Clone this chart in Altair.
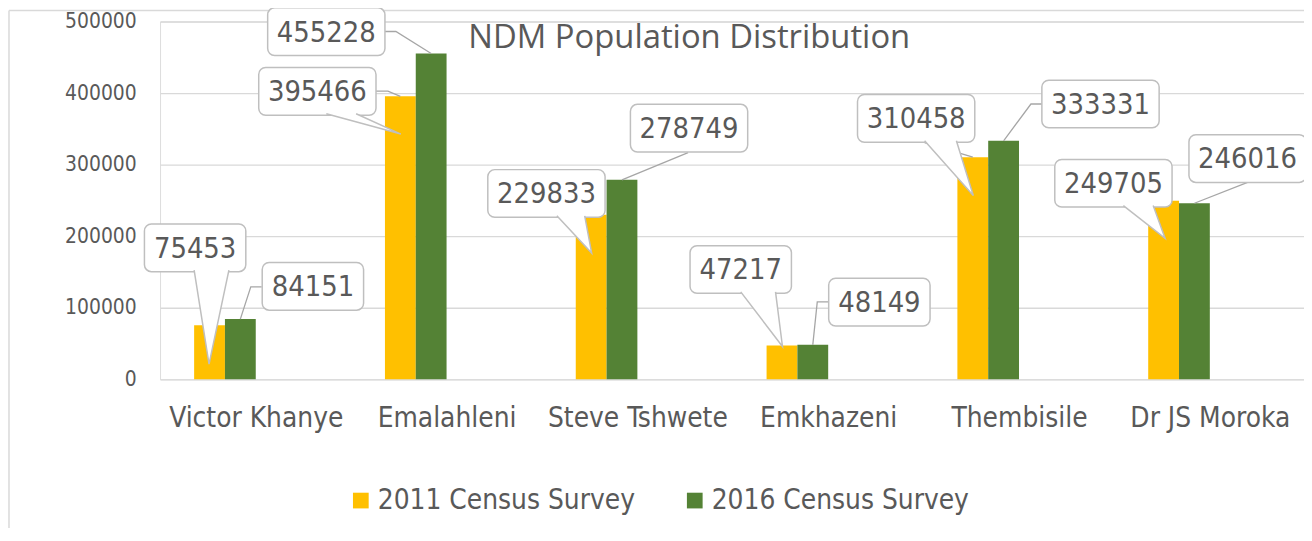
import json
import altair as alt
import pandas as pd

# ---------------- data ----------------
categories = ["Victor Khanye", "Emalahleni", "Steve Tshwete", "Emkhazeni", "Thembisile", "Dr JS Moroka"]
series_names = ["2011 Census Survey", "2016 Census Survey"]
census_2011 = [75453, 395466, 229833, 47217, 310458, 249705]
census_2016 = [84151, 455228, 278749, 48149, 333331, 246016]
y_ticks = [0, 100000, 200000, 300000, 400000, 500000]

# ---------------- layout / style ----------------
W, H = 1151, 360
X_DOMAIN = [-0.34, 5.655]
Y_DOMAIN = [0, 500000]
PX_PER_STEP = W / (X_DOMAIN[1] - X_DOMAIN[0])
PX_PER_UNIT = H / (Y_DOMAIN[1] - Y_DOMAIN[0])
BAR_W = 31 / PX_PER_STEP
COLORS = ["#FFC000", "#548235"]
TXT = "#595959"
GRID = "#D9D9D9"
EDGE = "#BFBFBF"
LEAD = "#A6A6A6"
FONT = "DejaVu Sans Condensed"
BOX_H = 48

# callout placement, pixels relative to the top-centre of each bar
box_off = {
    0: [(-14.5, -78), (-83.5, -5), (-45, -21.5), (-41.5, -76.5), (-57, -39), (-50.5, -17.5)],
    1: [(73, -33), (-105.5, -22), (67.5, -52), (67, -43), (97.5, -37), (53.5, -45)],
}
# wedge: (base x0, base x1 relative to box centre), tip relative to bar top
wedges = {
    (0, 0): ((-1, 34), (-0.5, 39)),
    (0, 1): ((9, 39), (0.5, 38)),
    (0, 2): ((10.5, 38.5), (0.5, 38.5)),
    (0, 3): ((0, 35), (0.5, 1)),
    (0, 4): ((8.5, 40.5), (0.5, 38.5)),
    (0, 5): ((10, 40), (1.5, 38)),
}
leaders = {
    (0, 1): [(-24.5, -5.3), (-12.5, -5.3)],
    (0, 4): [(-48.5, -14.5)],
    (1, 0): [(21.5, -32.5), (10.5, -32.5)],
    (1, 1): [(-46.5, -22.2), (-35.5, -22.2)],
    (1, 2): [(66.5, -27.3)],
    (1, 3): [(15.5, -43.3), (4.5, -43.3)],
    (1, 4): [(39.5, -37), (27.5, -37)],
    (1, 5): [(53.5, -21)],
}


def fx(px):
    return px / PX_PER_STEP


def fy(px):
    return -px / PX_PER_UNIT


bars, boxes, wed_rows, lead_rows = [], [], [], []
for s, vals in enumerate([census_2011, census_2016]):
    for i, v in enumerate(vals):
        x0 = i + (s - 1) * BAR_W
        bars.append({"series": series_names[s], "x0": x0, "x1": x0 + BAR_W, "value": v})
        ax = i + (s - 0.5) * BAR_W
        label = str(v)
        bw = 16 * len(label) + 22
        dx, dy = box_off[s][i]
        cx, cy = ax + fx(dx), v + fy(dy)
        boxes.append({
            "label": label, "cx": cx, "cy": cy,
            "bx0": cx - fx(bw / 2), "bx1": cx + fx(bw / 2),
            "by0": cy + fy(-BOX_H / 2), "by1": cy + fy(BOX_H / 2),
        })
        key = (s, i)
        if key in wedges:
            (b0, b1), (tx, ty) = wedges[key]
            base_y = cy + fy(BOX_H / 2 - 1.5)
            pts = [(cx + fx(b0), base_y), (ax + fx(tx), v + fy(ty)), (cx + fx(b1), base_y)]
            for k, (px_, py_) in enumerate(pts):
                wed_rows.append({"id": f"{s}-{i}", "ord": k, "x": px_, "y": py_})
        if key in leaders:
            pts = [(ax + fx(a), v + fy(b)) for a, b in leaders[key]] + [(ax, v)]
            for k, (px_, py_) in enumerate(pts):
                lead_rows.append({"id": f"{s}-{i}", "ord": k, "x": px_, "y": py_})

bars_df = pd.DataFrame(bars)
boxes_df = pd.DataFrame(boxes)
wed_df = pd.DataFrame(wed_rows)
lead_df = pd.DataFrame(lead_rows)

xscale = alt.Scale(domain=X_DOMAIN, nice=False, zero=False)
yscale = alt.Scale(domain=Y_DOMAIN, nice=False)

label_expr = json.dumps(categories) + "[datum.value]"

bar_layer = alt.Chart(bars_df).mark_rect().encode(
    x=alt.X("x0:Q", scale=xscale, axis=alt.Axis(
        values=list(range(len(categories))), labelExpr=label_expr, title=None,
        grid=False, ticks=False, domain=False, labelFont=FONT, labelFontSize=28,
        labelColor=TXT, labelPadding=25, labelLimit=400, labelFlush=False,
        labelOverlap=False, labelOffset=31)),
    x2="x1:Q",
    y=alt.Y("value:Q", scale=yscale, axis=alt.Axis(
        values=y_ticks, format="d", title=None, grid=True, gridColor=GRID, gridWidth=1.3,
        ticks=False, domain=False, labelFont=FONT, labelFontSize=21, labelColor=TXT,
        labelPadding=24)),
    y2=alt.datum(0),
    color=alt.Color("series:N", scale=alt.Scale(domain=series_names, range=COLORS),
                    legend=alt.Legend(orient="none", legendX=188, legendY=468,
                                      direction="horizontal", title=None,
                                      symbolType="square", symbolSize=250,
                                      symbolStrokeWidth=0, labelFont=FONT,
                                      labelFontSize=28, labelColor=TXT,
                                      labelOffset=3, labelLimit=500,
                                      columnPadding=46, padding=0)),
)

lead_layer = alt.Chart(lead_df).mark_line(stroke=LEAD, strokeWidth=1.3).encode(
    x=alt.X("x:Q", scale=xscale), y=alt.Y("y:Q", scale=yscale),
    detail="id:N", order="ord:Q")

box_layer = alt.Chart(boxes_df).mark_rect(
    fill="white", stroke=EDGE, strokeWidth=1.5, cornerRadius=7).encode(
    x=alt.X("bx0:Q", scale=xscale), x2="bx1:Q",
    y=alt.Y("by0:Q", scale=yscale), y2="by1:Q")

wedge_layer = alt.Chart(wed_df).mark_line(
    fill="white", stroke=EDGE, strokeWidth=1.5).encode(
    x=alt.X("x:Q", scale=xscale), y=alt.Y("y:Q", scale=yscale),
    detail="id:N", order="ord:Q")

text_layer = alt.Chart(boxes_df).mark_text(
    font=FONT, fontSize=29, color=TXT, align="center", baseline="middle", dy=1).encode(
    x=alt.X("cx:Q", scale=xscale), y=alt.Y("cy:Q", scale=yscale), text="label:N")

frame = alt.Chart(pd.DataFrame({"k": [0]})).mark_rule(color=GRID, strokeWidth=1.5).encode(
    x=alt.value(-152), y=alt.value(-11), y2=alt.value(H + 150))
frame_top = alt.Chart(pd.DataFrame({"k": [0]})).mark_rule(color=GRID, strokeWidth=1.5).encode(
    x=alt.value(-152), x2=alt.value(W + 10), y=alt.value(-11))

chart = alt.layer(frame, frame_top, bar_layer, lead_layer, box_layer, wedge_layer, text_layer).properties(
    width=W, height=H,
    title=alt.TitleParams("NDM Population Distribution", font="Open Sans", fontSize=33,
                          fontWeight="normal", color=TXT, anchor="middle", dx=-43,
                          offset=-48),
    autosize=alt.AutoSizeParams(type="none"),
    padding={"left": 153, "top": 12, "right": 0, "bottom": 148},
).configure_view(stroke=None).configure(background="white")

chart.save("out.html", embed_options={"renderer": "svg", "actions": False})
